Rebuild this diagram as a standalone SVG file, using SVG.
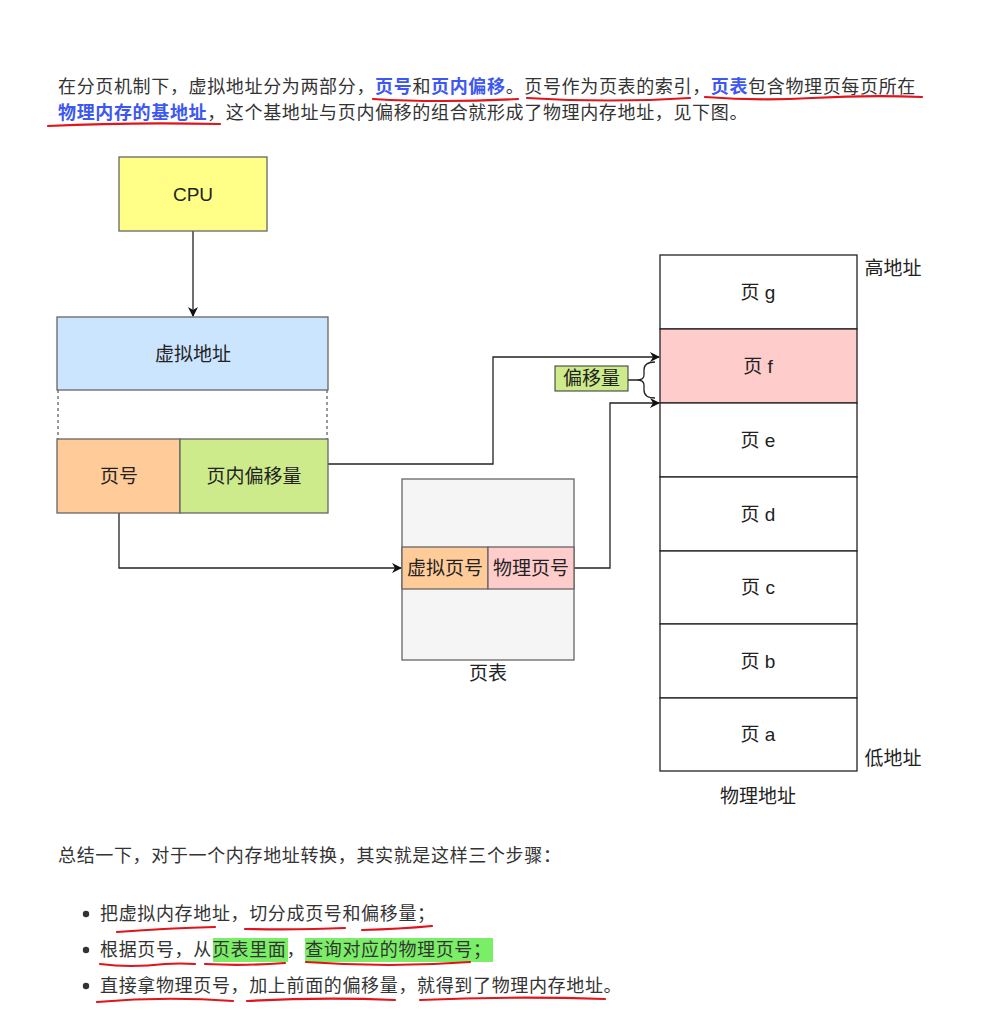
<svg xmlns="http://www.w3.org/2000/svg" width="989" height="1019" viewBox="0 0 989 1019">
<style>
.p{font-family:"Liberation Sans","Noto Sans CJK SC",sans-serif;font-size:18px;letter-spacing:0.65px;fill:#333}
.b{fill:#3c57f2;font-weight:bold}
.n{font-family:"Liberation Sans","Noto Sans CJK SC",sans-serif;font-size:19px;fill:#222;text-anchor:middle;dominant-baseline:central}
.box{stroke:#666;stroke-width:1.3}
.pg{fill:#fff;stroke:#222;stroke-width:1.3}
.c{fill:none;stroke:#222;stroke-width:1.3}
.ul{fill:none;stroke:#e0141a;stroke-width:2.2;stroke-linecap:round}
</style>
<defs>
<marker id="ar" viewBox="0 0 10 10" refX="9" refY="5" markerWidth="10" markerHeight="10" markerUnits="userSpaceOnUse" orient="auto">
<path d="M0,0 L10,5 L0,10 L3,5 Z" fill="#111"/>
</marker>
</defs>
<rect width="989" height="1019" fill="#fff"/>

<!-- top paragraph -->
<g id="para-top">
<text class="p" x="58" y="93">在分页机制下，虚拟地址分为两部分，<tspan class="b">页号</tspan>和<tspan class="b">页内偏移</tspan>。页号作为页表的索引，<tspan class="b">页表</tspan>包含物理页每页所在</text>
<text class="p" x="58" y="119"><tspan class="b">物理内存的基地址</tspan>，这个基地址与页内偏移的组合就形成了物理内存地址，见下图。</text>
<path class="ul" d="M373,99 Q440,103 518,99"/>
<path class="ul" d="M527,98 Q610,103 690,98"/>
<path class="ul" d="M705,97 Q760,101 812,98 Q870,95 922,97"/>
<path class="ul" d="M48,126 Q130,122 220,124"/>
</g>

<!-- connectors -->
<g id="connectors">
<path class="c" d="M193,231 L193,316" marker-end="url(#ar)"/>
<path class="c" d="M328,464 L493,464 L493,357 L659,357" marker-end="url(#ar)"/>
<path class="c" d="M119,513 L119,568 L401,568" marker-end="url(#ar)"/>
<path class="c" d="M574,568 L610,568 L610,403 L659,403" marker-end="url(#ar)"/>
<path d="M58,390 L58,439 M327,390 L327,439" fill="none" stroke="#555" stroke-width="1.2" stroke-dasharray="3,3"/>
</g>

<g id="cpu">
<rect class="box" x="119" y="157" width="148" height="74" fill="#ffff88"/>
<text class="n" x="193" y="194">CPU</text>
</g>

<g id="vaddr">
<rect class="box" x="57" y="317" width="271" height="73" fill="#cce5ff"/>
<text class="n" x="193" y="354">虚拟地址</text>
</g>

<g id="pagenum">
<rect class="box" x="57" y="439" width="123" height="74" fill="#ffcc99"/>
<text class="n" x="119" y="476">页号</text>
</g>

<g id="offset">
<rect class="box" x="180" y="439" width="148" height="74" fill="#cdeb8b"/>
<text class="n" x="254" y="476">页内偏移量</text>
</g>

<g id="pagetable">
<rect class="box" x="402" y="479" width="172" height="181" fill="#f5f5f5"/>
<rect class="box" x="402" y="547" width="86" height="42" fill="#ffcc99"/>
<rect class="box" x="488" y="547" width="86" height="42" fill="#ffcccc"/>
<text class="n" x="445" y="568">虚拟页号</text>
<text class="n" x="531" y="568">物理页号</text>
<text class="n" x="488" y="673">页表</text>
</g>

<g id="offset-label">
<rect x="555" y="366" width="73" height="25" fill="#cdeb8b" stroke="#333" stroke-width="1"/>
<text class="n" x="591.5" y="378.5">偏移量</text>
<path class="c" d="M628,380 L637,380 M655,362 Q644,362 644,370 L644,375 Q644,380 637,380 Q644,380 644,385 L644,390 Q644,398 655,398"/>
</g>

<g id="phys">
<rect class="pg" x="660" y="255" width="197" height="74"/>
<text class="n" x="758" y="292">页 g</text>
<rect x="660" y="329" width="197" height="74" fill="#ffcccc" stroke="#222" stroke-width="1.3"/>
<text class="n" x="758" y="366">页 f</text>
<rect class="pg" x="660" y="403" width="197" height="74"/>
<text class="n" x="758" y="440">页 e</text>
<rect class="pg" x="660" y="477" width="197" height="74"/>
<text class="n" x="758" y="514">页 d</text>
<rect class="pg" x="660" y="551" width="197" height="73"/>
<text class="n" x="758" y="587">页 c</text>
<rect class="pg" x="660" y="624" width="197" height="74"/>
<text class="n" x="758" y="661">页 b</text>
<rect class="pg" x="660" y="698" width="197" height="73"/>
<text class="n" x="758" y="734">页 a</text>
<text class="n" x="893" y="268">高地址</text>
<text class="n" x="893" y="758">低地址</text>
<text class="n" x="758" y="796">物理地址</text>
</g>

<!-- bottom summary -->
<g id="summary">
<text class="p" x="58" y="862">总结一下，对于一个内存地址转换，其实就是这样三个步骤：</text>
<rect x="213" y="938" width="75" height="24" fill="#7aee66"/>
<rect x="305" y="938" width="188" height="24" fill="#7aee66"/>
<circle cx="86" cy="914" r="3.2" fill="#333"/>
<circle cx="86" cy="950" r="3.2" fill="#333"/>
<circle cx="86" cy="986" r="3.2" fill="#333"/>
<text class="p" x="100" y="920">把虚拟内存地址，切分成页号和偏移量；</text>
<text class="p" x="100" y="956">根据页号，从页表里面，查询对应的物理页号；</text>
<text class="p" x="100" y="992">直接拿物理页号，加上前面的偏移量，就得到了物理内存地址。</text>
<path class="ul" d="M117,932 Q170,928 215,927"/>
<path class="ul" d="M245,929 Q300,930 345,928"/>
<path class="ul" d="M362,930 Q400,929 432,926"/>
<path class="ul" d="M100,964 Q130,968 165,964 Q180,963 195,964"/>
<path class="ul" d="M205,964 Q245,966 285,963"/>
<path class="ul" d="M306,962 Q390,968 470,962"/>
<path class="ul" d="M97,1002 Q165,996 233,1001"/>
<path class="ul" d="M247,1001 Q320,997 395,1000"/>
<path class="ul" d="M420,1000 Q510,996 605,999"/>
</g>
</svg>
